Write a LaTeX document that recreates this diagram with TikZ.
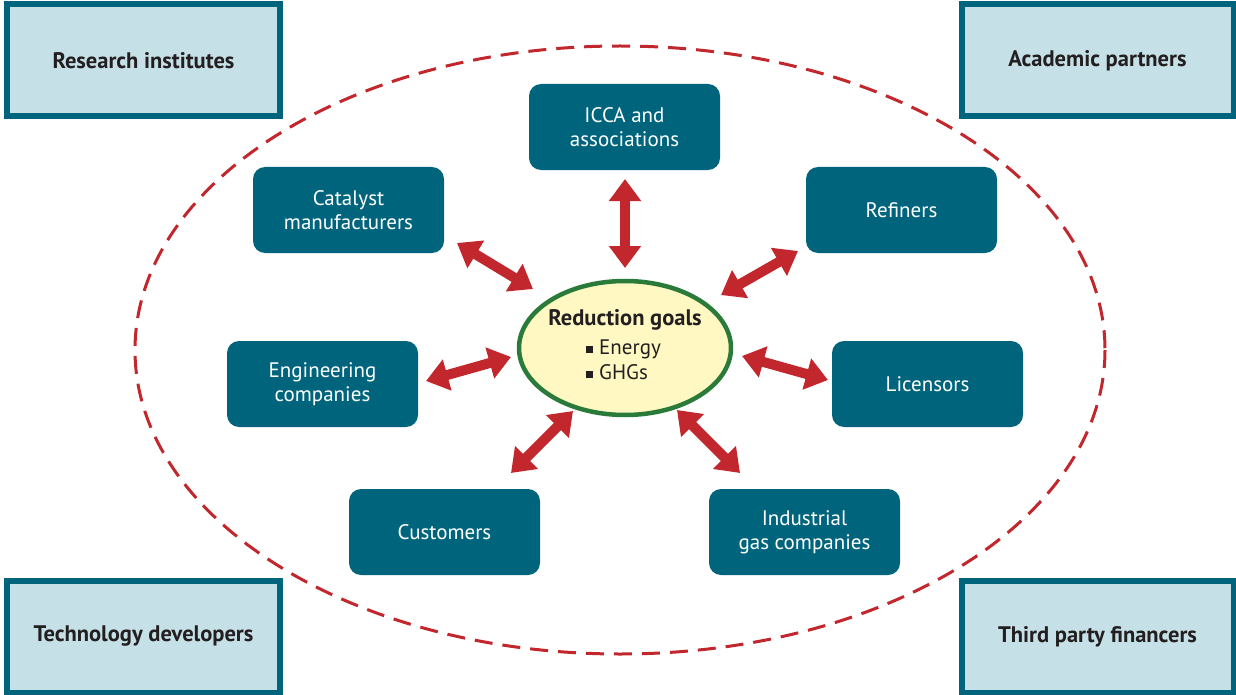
\documentclass[tikz,border=0pt]{standalone}
\usepackage{fontspec}
\setmainfont{PT Sans}
\usetikzlibrary{arrows.meta,shapes.geometric}
\definecolor{boxteal}{HTML}{00657C}
\definecolor{boxlight}{HTML}{C5E0E7}
\definecolor{arrowred}{HTML}{C1272D}
\definecolor{goalgreen}{HTML}{2A7B3A}
\definecolor{goalfill}{HTML}{FFF8C2}
\definecolor{textdark}{HTML}{231F20}
\tikzset{
  cornerbox/.style={draw=boxteal, line width=6bp, fill=boxlight, rectangle,
    minimum width=272bp, minimum height=112bp, inner sep=0pt,
    font=\fontsize{22.5bp}{26bp}\selectfont\bfseries, text=textdark},
  partner/.style={fill=boxteal, rectangle, rounded corners=12bp,
    minimum width=191bp, minimum height=86bp, inner sep=0pt, align=center,
    font=\fontsize{21bp}{24bp}\selectfont, text=white},
  goal/.style={ellipse, draw=goalgreen, line width=4.5bp, fill=goalfill,
    minimum width=212bp, minimum height=134bp, inner sep=0pt},
  fatarrow/.style={draw=arrowred, line width=10bp,
    {Triangle[width=31bp,length=22bp]}-{Triangle[width=31bp,length=22bp]}},
  ring/.style={draw=arrowred, line width=3bp, dash pattern=on 18bp off 10bp}
}
\begin{document}
\begin{tikzpicture}[x=1bp,y=-1bp]
\useasboundingbox (0,0) rectangle (1236,695);
\fill[white] (0,0) rectangle (1236,695);

% dashed ring
\draw[ring] (620,350) ellipse [x radius=485, y radius=304];

% corner boxes
\node[cornerbox] (research) at (143.5,60.5) {Research institutes};
\node[cornerbox] (academic) at (1097.5,60.5) {Academic partners};
\node[cornerbox] (techdev) at (143.5,636.5) {Technology developers};
\node[cornerbox] (financers) at (1097.5,636.5) {Third party financers};

% partner boxes
\node[partner] (icca) at (624.5,127) {ICCA and\\associations};
\node[partner] (catalyst) at (348.5,210) {Catalyst\\manufacturers};
\node[partner] (refiners) at (901.5,210) {Refiners};
\node[partner] (engineering) at (322.5,384) {Engineering\\companies};
\node[partner] (licensors) at (927.5,384) {Licensors};
\node[partner] (customers) at (444.5,532) {Customers};
\node[partner] (industrial) at (804.5,532) {Industrial\\gas companies};

% central goal
\node[goal] (goal) at (625,348) {};
\node[font=\fontsize{22.5bp}{26bp}\selectfont\bfseries, text=textdark] (goaltitle) at (625,320) {Reduction goals};
\node[font=\fontsize{21bp}{25bp}\selectfont, text=textdark, align=left, anchor=north west, inner sep=0pt] (goallist) at (586,340)
  {\rule[1.5bp]{7bp}{7bp}\hspace{6bp}Energy\\\rule[1.5bp]{7bp}{7bp}\hspace{6bp}GHGs};

% arrow end points
\coordinate (icca-a) at (625,179);   \coordinate (icca-b) at (625,268);
\coordinate (cat-a) at (457,243);    \coordinate (cat-b) at (533,289);
\coordinate (ref-a) at (798,251);    \coordinate (ref-b) at (721,295);
\coordinate (eng-a) at (426,381);    \coordinate (eng-b) at (511,357);
\coordinate (lic-a) at (828,380);    \coordinate (lic-b) at (742,356);
\coordinate (cus-a) at (511,473);    \coordinate (cus-b) at (573,411);
\coordinate (ind-a) at (740,473);    \coordinate (ind-b) at (677,410);

\draw[fatarrow] (icca-a) -- (icca-b);
\draw[fatarrow] (cat-a) -- (cat-b);
\draw[fatarrow] (ref-a) -- (ref-b);
\draw[fatarrow] (eng-a) -- (eng-b);
\draw[fatarrow] (lic-a) -- (lic-b);
\draw[fatarrow] (cus-a) -- (cus-b);
\draw[fatarrow] (ind-a) -- (ind-b);
\end{tikzpicture}
\end{document}
